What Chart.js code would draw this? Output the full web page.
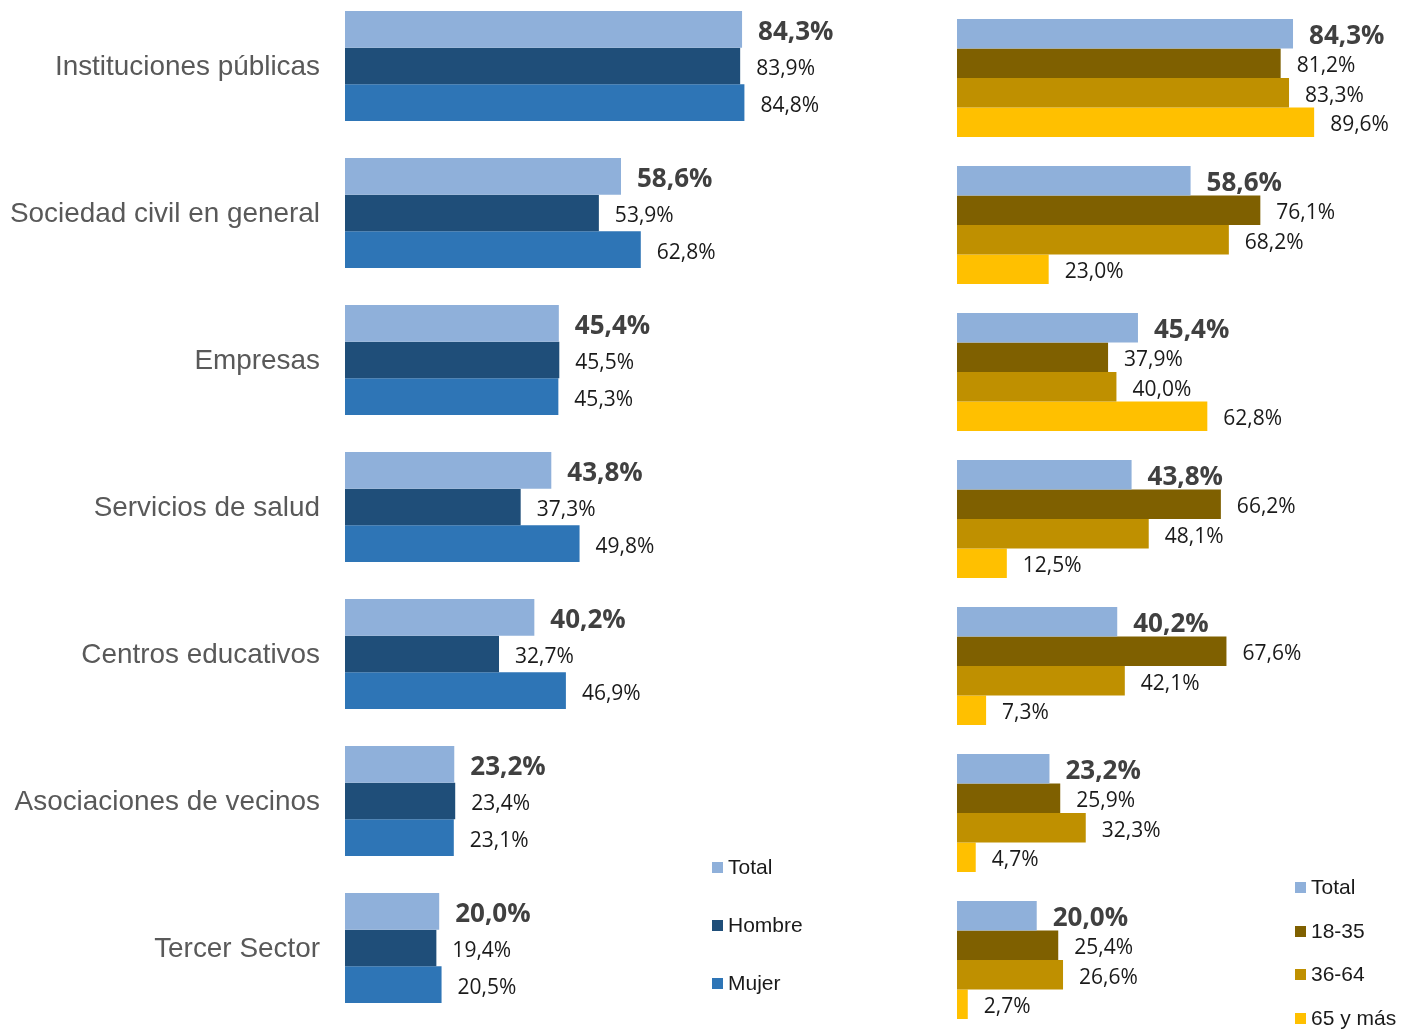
<!DOCTYPE html>
<html>
<head>
<meta charset="utf-8">
<script src="https://cdn.jsdelivr.net/npm/chart.js@4.4.1/dist/chart.umd.min.js"></script>
<style>
  html, body { margin: 0; padding: 0; width: 1401px; height: 1029px; overflow: hidden; background: #fff; }
  #leftWrap  { position: absolute; left: 0;     top: -20px; width: 900px; height: 1060px; }
  #rightWrap { position: absolute; left: 900px; top: 0;     width: 501px; height: 1040px; }
  .legend { position: absolute; font-family: "Liberation Sans", Arial, sans-serif; font-size: 21px; color: #1a1a1a; }
  .legend .item { position: absolute; left: 0; white-space: nowrap; display: flex; align-items: center; height: 24px; line-height: 24px; }
  .legend .sw { width: 11px; height: 11px; margin-right: 5px; flex: none; }
</style>
</head>
<body>
<div id="leftWrap"><canvas id="leftChart"></canvas></div>
<div id="rightWrap"><canvas id="rightChart"></canvas></div>
<div class="legend" id="leftLegend" style="left:712px;top:0;"></div>
<div class="legend" id="rightLegend" style="left:1295px;top:0;"></div>
<script>
// Categories (actors) and percentages per group
const categories = [
  'Instituciones públicas',
  'Sociedad civil en general',
  'Empresas',
  'Servicios de salud',
  'Centros educativos',
  'Asociaciones de vecinos',
  'Tercer Sector'
];
const total  = [84.3, 58.6, 45.4, 43.8, 40.2, 23.2, 20.0];
const hombre = [83.9, 53.9, 45.5, 37.3, 32.7, 23.4, 19.4];
const mujer  = [84.8, 62.8, 45.3, 49.8, 46.9, 23.1, 20.5];
const edad18_35 = [81.2, 76.1, 37.9, 66.2, 67.6, 25.9, 25.4];
const edad36_64 = [83.3, 68.2, 40.0, 48.1, 42.1, 32.3, 26.6];
const edad65    = [89.6, 23.0, 62.8, 12.5,  7.3,  4.7,  2.7];

const sexLabels = ['Total', 'Hombre', 'Mujer'];
const ageLabels = ['Total', '18-35', '36-64', '65 y más'];

const sexColors = ['#8FB0DA', '#1F4E79', '#2E75B6'];
const ageColors = ['#8FB0DA', '#7F6000', '#BF9000', '#FFC000'];

const fmt = v => v.toFixed(1).replace('.', ',') + '%';

// Writes the value at the end of each bar; the first series is in bold
const valueLabels = {
  id: 'valueLabels',
  afterDatasetsDraw(chart) {
    const ctx = chart.ctx;
    chart.data.datasets.forEach((ds, i) => {
      const meta = chart.getDatasetMeta(i);
      meta.data.forEach((bar, j) => {
        ctx.save();
        ctx.font = i === 0 ? 'bold 26px "Open Sans"' : '21px "Open Sans"';
        ctx.fillStyle = i === 0 ? '#404040' : '#1a1a1a';
        ctx.textAlign = 'left';
        ctx.textBaseline = 'middle';
        ctx.fillText(fmt(ds.data[j]), bar.x + 16, bar.y + 3);
        ctx.restore();
      });
    });
  }
};

function makeDatasets(labels, colors, series) {
  return series.map((data, i) => ({
    label: labels[i],
    data: data,
    backgroundColor: colors[i],
    borderWidth: 0
  }));
}

// Left: by sex, with category names
new Chart(document.getElementById('leftChart'), {
  type: 'bar',
  data: { labels: categories, datasets: makeDatasets(sexLabels, sexColors, [total, hombre, mujer]) },
  options: {
    indexAxis: 'y',
    responsive: true,
    maintainAspectRatio: false,
    animation: false,
    categoryPercentage: 0.748,
    barPercentage: 1.0,
    layout: { padding: { top: 12.5, bottom: 18.5, left: 0, right: 84 } },
    plugins: { legend: { display: false }, tooltip: { enabled: false } },
    scales: {
      x: { display: false, min: 0, max: 100 },
      y: {
        grid: { display: false, drawTicks: false },
        border: { display: false },
        ticks: {
          padding: 25,
          labelOffset: 1,
          color: '#595959',
          font: { family: '"Liberation Sans", Arial, sans-serif', size: 27.9 }
        },
        afterFit(scale) {
          scale.width = 345;
          scale.paddingTop = 0;
          scale.paddingBottom = 0;
        }
      }
    }
  },
  plugins: [valueLabels]
});

// Right: by age group
new Chart(document.getElementById('rightChart'), {
  type: 'bar',
  data: { labels: categories, datasets: makeDatasets(ageLabels, ageColors, [total, edad18_35, edad36_64, edad65]) },
  options: {
    indexAxis: 'y',
    responsive: true,
    maintainAspectRatio: false,
    animation: false,
    categoryPercentage: 0.803,
    barPercentage: 1.0,
    layout: { padding: { top: 4.5, bottom: 6.5, left: 57, right: 45.4 } },
    plugins: { legend: { display: false }, tooltip: { enabled: false } },
    scales: {
      x: { display: false, min: 0, max: 100 },
      y: { display: false }
    }
  },
  plugins: [valueLabels]
});

// Legends
function buildLegend(el, labels, colors, centers) {
  labels.forEach((lab, i) => {
    const item = document.createElement('div');
    item.className = 'item';
    item.style.top = (centers[i] - 12) + 'px';
    const sw = document.createElement('span');
    sw.className = 'sw';
    sw.style.background = colors[i];
    const tx = document.createElement('span');
    tx.textContent = lab;
    item.appendChild(sw);
    item.appendChild(tx);
    el.appendChild(item);
  });
}
buildLegend(document.getElementById('leftLegend'), sexLabels, sexColors, [867, 925, 983]);
buildLegend(document.getElementById('rightLegend'), ageLabels, ageColors, [887, 931, 974, 1018]);
</script>
</body>
</html>
